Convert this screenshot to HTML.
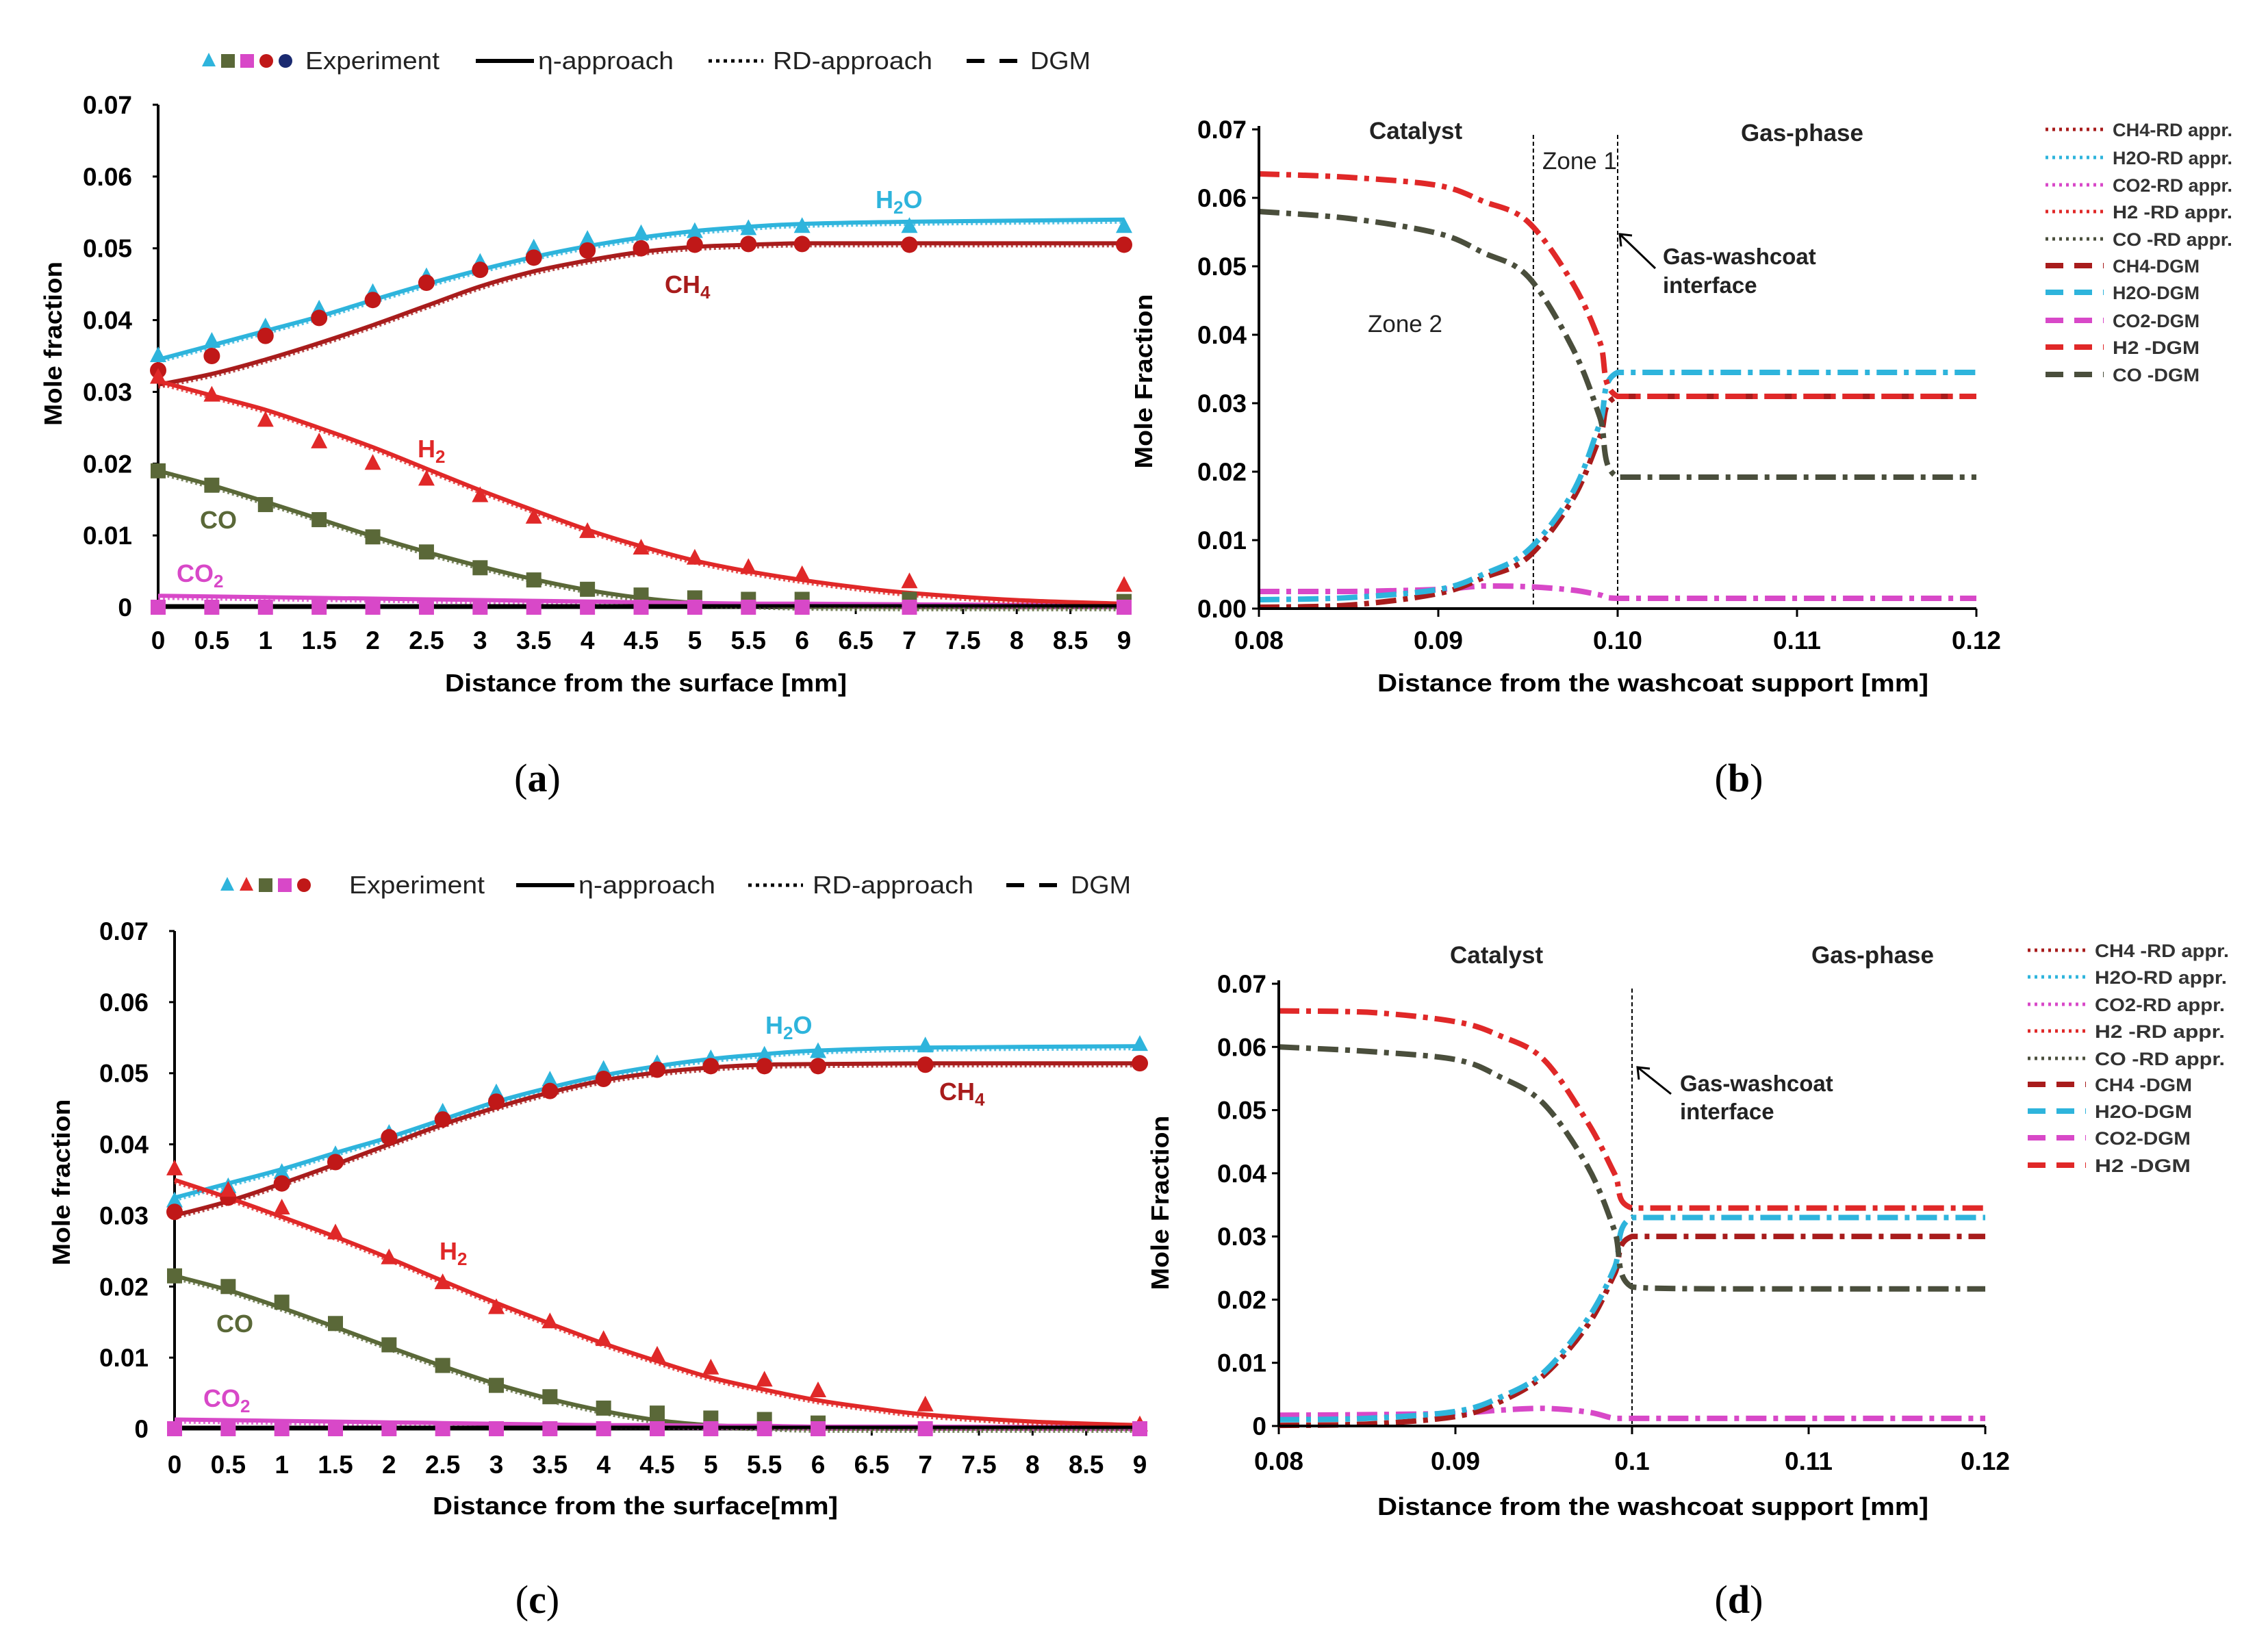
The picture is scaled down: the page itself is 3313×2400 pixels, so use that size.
<!DOCTYPE html>
<html><head><meta charset="utf-8"><style>
html,body{margin:0;padding:0;background:#fff}
svg{display:block;font-family:"Liberation Sans",sans-serif}
</style></head><body>
<svg id="fig" width="3313" height="2400" viewBox="0 0 3313 2400" xmlns="http://www.w3.org/2000/svg"></svg>
<script>
// ---------- Panel (a) data ----------
const aXm = [0,0.5,1,1.5,2,2.5,3,3.5,4,4.5,5,5.5,6,7,9];
const aH2Om = [0.0345,0.0365,0.0385,0.0405,0.0428,0.045,0.047,0.0488,0.0503,0.0515,0.0524,0.053,0.0534,0.0537,0.054];
const aCH4m = [0.031,0.0325,0.0345,0.0368,0.0393,0.042,0.0447,0.0468,0.0483,0.0495,0.0502,0.0505,0.0507,0.0507,0.0507];
const aCOm  = [0.019,0.017,0.0147,0.0123,0.0099,0.0077,0.0057,0.0039,0.0024,0.0013,0.0006,0.0003,0.0001,0,0];
const aCO2m = [0.0016,0.0015,0.0014,0.0013,0.0012,0.0011,0.001,0.0009,0.0008,0.0007,0.0006,0.0005,0.0005,0.0004,0.0003];
const aXh2 = [0,0.5,1,1.5,2,2.5,3,3.5,4,4.5,5,5.5,6,6.5,7,8,9];
const aH2m  = [0.0315,0.0295,0.0275,0.025,0.0223,0.0193,0.0163,0.0135,0.0108,0.0085,0.0065,0.005,0.0038,0.0028,0.002,0.001,0.0005];
const aXe = [0,0.5,1,1.5,2,2.5,3,3.5,4,4.5,5,5.5,6,7,9];
const aH2Oe = [0.035,0.037,0.039,0.0415,0.0438,0.046,0.048,0.05,0.0512,0.052,0.0523,0.0527,0.053,0.053,0.053];
const aCH4e = [0.033,0.035,0.0378,0.0403,0.0428,0.0452,0.047,0.0487,0.0497,0.05,0.0505,0.0506,0.0506,0.0505,0.0505];
const aH2e  = [0.032,0.0295,0.026,0.023,0.02,0.0178,0.0155,0.0125,0.0105,0.0082,0.0068,0.0055,0.0045,0.0035,0.003];
const aCOe  = [0.019,0.017,0.0143,0.0122,0.0098,0.0077,0.0055,0.0038,0.0025,0.0017,0.0013,0.0011,0.0011,0.0011,0.0008];
const aCO2e = [0,0,0,0,0,0,0,0,0,0,0,0,0,0,0];
// ---------- Panel (c) data ----------
const cXm = [0,0.5,1,1.5,2,2.5,3,3.5,4,4.5,5,5.5,6,7,9];
const cH2Om = [0.0325,0.0345,0.0365,0.0388,0.041,0.0435,0.046,0.048,0.0497,0.051,0.052,0.0527,0.0532,0.0536,0.0538];
const cCH4m = [0.03,0.032,0.0345,0.0372,0.04,0.0428,0.0452,0.0473,0.049,0.0501,0.0508,0.0512,0.0513,0.0514,0.0514];
const cCOm  = [0.0215,0.0195,0.017,0.0143,0.0115,0.0088,0.0063,0.0042,0.0025,0.0012,0.0005,0.0002,0,0,0];
const cCO2m = [0.0013,0.0012,0.0011,0.001,0.0009,0.0008,0.0007,0.0006,0.0005,0.0005,0.0004,0.0004,0.0003,0.0003,0.0002];
const cXh2 = [0,0.5,1,1.5,2,2.5,3,3.5,4,4.5,5,5.5,6,6.5,7,8,9];
const cH2m  = [0.035,0.0325,0.0298,0.027,0.024,0.0208,0.0177,0.0148,0.012,0.0095,0.0072,0.0055,0.004,0.0029,0.002,0.001,0.0005];
const cXe = [0,0.5,1,1.5,2,2.5,3,3.5,4,4.5,5,5.5,6,7,9];
const cH2Oe = [0.032,0.034,0.036,0.0385,0.0415,0.0445,0.0472,0.049,0.0505,0.0513,0.052,0.0525,0.053,0.0538,0.054];
const cCH4e = [0.0305,0.0325,0.0345,0.0375,0.041,0.0435,0.046,0.0475,0.0492,0.0505,0.051,0.051,0.051,0.0512,0.0514];
const cH2e  = [0.0365,0.0335,0.031,0.0275,0.024,0.0205,0.017,0.015,0.0125,0.0103,0.0085,0.0068,0.0053,0.0033,0.0005];
const cXco = [0,0.5,1,1.5,2,2.5,3,3.5,4,4.5,5,5.5,6];
const cCOe  = [0.0215,0.02,0.0178,0.0148,0.0118,0.0089,0.0061,0.0045,0.0029,0.0022,0.0015,0.0013,0.0008];
const cCO2e = [0,0,0,0,0,0,0,0,0,0,0,0,0,0,0];
// ---------- Panel (b) data ----------
const bX = [0.08,0.085,0.09,0.0925,0.095,0.0975,0.099,0.1,0.105,0.11,0.115,0.12];
const bH2  = [0.0635,0.063,0.0618,0.0595,0.0565,0.0475,0.039,0.031,0.031,0.031,0.031,0.031];
const bCO  = [0.058,0.057,0.0548,0.052,0.0485,0.038,0.028,0.0192,0.0192,0.0192,0.0192,0.0192];
const bH2O = [0.0013,0.0016,0.0028,0.005,0.0085,0.017,0.027,0.0345,0.0345,0.0345,0.0345,0.0345];
const bCH4 = [0.0002,0.0005,0.0022,0.0045,0.0075,0.016,0.025,0.031,0.031,0.031,0.031,0.031];
const bCO2 = [0.0025,0.0025,0.0028,0.0033,0.0032,0.0027,0.002,0.0015,0.0015,0.0015,0.0015,0.0015];
// ---------- Panel (d) data ----------
const dX = [0.08,0.085,0.09,0.0925,0.095,0.0975,0.099,0.1,0.105,0.11,0.115,0.12];
const dH2  = [0.0657,0.0655,0.064,0.0618,0.058,0.048,0.04,0.0345,0.0345,0.0345,0.0345,0.0345];
const dCO  = [0.06,0.0593,0.058,0.0553,0.051,0.041,0.031,0.022,0.0217,0.0217,0.0217,0.0217];
const dH2O = [0.001,0.0012,0.0023,0.0045,0.0085,0.017,0.025,0.033,0.033,0.033,0.033,0.033];
const dCH4 = [0.0001,0.0003,0.0015,0.0038,0.008,0.016,0.024,0.03,0.03,0.03,0.03,0.03];
const dCO2 = [0.0017,0.0018,0.002,0.0025,0.0028,0.0022,0.0012,0.0012,0.0012,0.0012,0.0012,0.0012];
const leftXTicks = ["0","0.5","1","1.5","2","2.5","3","3.5","4","4.5","5","5.5","6","6.5","7","7.5","8","8.5","9"];
const leftYTicks = ["0","0.01","0.02","0.03","0.04","0.05","0.06","0.07"];
const bXTicks = ["0.08","0.09","0.10","0.11","0.12"];
const dXTicks = ["0.08","0.09","0.1","0.11","0.12"];
const bYTicks = ["0.00","0.01","0.02","0.03","0.04","0.05","0.06","0.07"];
const dYTicks = ["0","0.01","0.02","0.03","0.04","0.05","0.06","0.07"];

const C = {h2:"#e02828",ch4:"#a81c1c",h2o:"#2eb4dc",co:"#5a6838",co2:"#d848c8",cog:"#4a4e3c"};
const NS="http://www.w3.org/2000/svg";
const svg=document.getElementById('fig');
function mk(tag,attrs,parent){const e=document.createElementNS(NS,tag);for(const k in attrs)e.setAttribute(k,attrs[k]);(parent||svg).appendChild(e);return e;}
function txt(s,x,y,o,parent){const e=mk('text',Object.assign({x:x,y:y},o||{}),parent);e.textContent=s;return e;}
function clampY(v,a,b){const lo=Math.min(a,b),hi=Math.max(a,b);return Math.max(lo,Math.min(hi,v));}
function smooth(pts){let d="M"+pts[0][0]+","+pts[0][1];for(let i=0;i<pts.length-1;i++){const p0=pts[i-1]||pts[i],p1=pts[i],p2=pts[i+1],p3=pts[i+2]||p2;
 const c1=[p1[0]+(p2[0]-p0[0])/6,clampY(p1[1]+(p2[1]-p0[1])/6,p1[1],p2[1])],c2=[p2[0]-(p3[0]-p1[0])/6,clampY(p2[1]-(p3[1]-p1[1])/6,p1[1],p2[1])];
 d+=" C"+c1[0].toFixed(1)+","+c1[1].toFixed(1)+" "+c2[0].toFixed(1)+","+c2[1].toFixed(1)+" "+p2[0].toFixed(1)+","+p2[1].toFixed(1);}return d;}
function axes(x0,x1,xv0,xv1,y0,y1,yv1){return {sx:v=>x0+(v-xv0)/(xv1-xv0)*(x1-x0),sy:v=>y0-(v/yv1)*(y0-y1)};}

// ---------- Left panels (a),(c) ----------
function leftPanel(id,P,D){
 const g=mk('g',{});  
 const A=axes(P.x0,P.x1,0,9,P.y0,P.y1,0.07);
 const ax=mk('line',{x1:P.x0,y1:P.y1,x2:P.x0,y2:P.y0,stroke:"#000","stroke-width":4},g);  
 const axx=mk('line',{x1:P.x0,y1:P.y0,x2:P.x1,y2:P.y0,stroke:"#000","stroke-width":5},g);  
 leftYTicks.forEach((t,i)=>{const y=A.sy(i*0.01);mk('line',{x1:P.x0-8,y1:y,x2:P.x0,y2:y,stroke:"#000","stroke-width":3},g);
  const e=txt(t,P.x0-38,y+13,{"font-size":37,"font-weight":"bold","text-anchor":"end"},g);  });
 leftXTicks.forEach((t,i)=>{const x=A.sx(i*0.5);mk('line',{x1:x,y1:P.y0,x2:x,y2:P.y0+10,stroke:"#000","stroke-width":3},g);
  const e=txt(t,x,P.ty,{"font-size":37,"font-weight":"bold","text-anchor":"middle"},g);  });
 const xt=txt(P.xtitle,P.xtX,P.xtY,{"font-size":36,"font-weight":"bold",textLength:P.xtL,lengthAdjust:"spacingAndGlyphs"},g);  
 const yt=txt("Mole fraction",0,0,{"font-size":36,"font-weight":"bold","text-anchor":"middle",textLength:P.ytL,lengthAdjust:"spacingAndGlyphs",transform:`translate(${P.ytX},${P.ytY}) rotate(-90)`},g);  
 D.lines.forEach(L=>{const pts=L.x.map((v,i)=>[A.sx(v),A.sy(L.y[i])]);
  const p=mk('path',{d:smooth(pts),fill:"none",stroke:L.c,"stroke-width":6},g);  
  const p2=mk('path',{d:smooth(pts.map(q=>[q[0],q[1]+4])),fill:"none",stroke:L.c,"stroke-width":4,"stroke-dasharray":"3 4",opacity:0.8},g);  });
 mk('line',{x1:P.x0,y1:P.y0-2,x2:P.x1,y2:P.y0-2,stroke:"#000","stroke-width":5},g);
 D.marks.forEach(M=>{M.x.forEach((v,i)=>{const x=A.sx(v),y=A.sy(M.y[i]);let e;
  if(M.s==="tri") e=mk('polygon',{points:`${x},${y-14} ${x-12},${y+9} ${x+12},${y+9}`,fill:M.c},g);
  else if(M.s==="sq") e=mk('rect',{x:x-11,y:y-11,width:22,height:22,fill:M.c},g);
  else e=mk('circle',{cx:x,cy:y,r:12,fill:M.c},g);
   });});
 P.labels.forEach(l=>{const e=mk('text',{x:l[1],y:l[2],"font-size":36,"font-weight":"bold",fill:l[3]},g);
  e.innerHTML=l[0];  });
 const lg=mk('g',{},g);  
 const L=P.leg, ly=L.y;
 L.mk.forEach((m,i)=>{const x=L.mx+i*28;let e;
  if(m[0]==="tri") e=mk('polygon',{points:`${x},${ly-12} ${x-10},${ly+8} ${x+10},${ly+8}`,fill:m[1]},lg);
  else if(m[0]==="sq") e=mk('rect',{x:x-10,y:ly-10,width:20,height:20,fill:m[1]},lg);
  else e=mk('circle',{cx:x,cy:ly,r:10,fill:m[1]},lg);
   });
 txt("Experiment",L.ex,ly+12,{"font-size":36,textLength:L.exL,lengthAdjust:"spacingAndGlyphs",fill:"#222"},lg);
 mk('line',{x1:L.l1[0],y1:ly,x2:L.l1[1],y2:ly,stroke:"#000","stroke-width":6},lg);
 txt("η-approach",L.l1[1]+6,ly+12,{"font-size":36,textLength:L.etaL,lengthAdjust:"spacingAndGlyphs",fill:"#222"},lg);
 mk('line',{x1:L.l2[0],y1:ly,x2:L.l2[1],y2:ly,stroke:"#000","stroke-width":5,"stroke-dasharray":"5 6"},lg);
 txt("RD-approach",L.l2[1]+14,ly+12,{"font-size":36,textLength:L.rdL,lengthAdjust:"spacingAndGlyphs",fill:"#222"},lg);
 mk('line',{x1:L.l3[0],y1:ly,x2:L.l3[1],y2:ly,stroke:"#000","stroke-width":6,"stroke-dasharray":"26 22"},lg);
 txt("DGM",L.l3[1]+14,ly+12,{"font-size":36,textLength:88,lengthAdjust:"spacingAndGlyphs",fill:"#222"},lg);
 const pl=mk('text',{x:P.plX,y:P.plY,"font-size":58,"font-family":"Liberation Serif, serif","text-anchor":"middle"},g);
 pl.innerHTML='(<tspan font-weight="bold">'+id+'</tspan>)';  
}
const sub=s=>`<tspan font-size="26" dy="8">${s}</tspan>`;
leftPanel('a',{x0:231,x1:1642,y0:887,y1:153,ty:948,xtitle:"Distance from the surface [mm]",xtX:650,xtY:1010,xtL:587,ytX:90,ytY:502,ytL:240,plX:785,plY:1156,
 labels:[["H"+sub("2")+'<tspan dy="-8">O</tspan>',1279,304,C.h2o],["CH"+sub("4"),971,428,C.ch4],["H"+sub("2"),610,668,C.h2],["CO",292,772,C.co],["CO"+sub("2"),258,850,C.co2]],
 leg:{y:89,mx:305,mk:[["tri",C.h2o],["sq",C.co],["sq",C.co2],["circ","#c01818"],["circ","#1a2a70"]],ex:446,exL:196,l1:[695,780],etaL:198,l2:[1035,1115],rdL:233,l3:[1412,1491]}},
 {lines:[{n:'h2o',x:aXm,y:aH2Om,c:C.h2o},{n:'ch4',x:aXm,y:aCH4m,c:C.ch4},{n:'co',x:aXm,y:aCOm,c:C.co},{n:'co2',x:aXm,y:aCO2m,c:C.co2},{n:'h2',x:aXh2,y:aH2m,c:C.h2}],
  marks:[{n:'h2o',s:'tri',x:aXe,y:aH2Oe,c:C.h2o},{n:'ch4',s:'circ',x:aXe,y:aCH4e,c:"#c01818"},{n:'h2',s:'tri',x:aXe,y:aH2e,c:C.h2},{n:'co',s:'sq',x:aXe,y:aCOe,c:C.co},{n:'co2',s:'sq',x:aXe,y:aCO2e,c:C.co2}]});
leftPanel('c',{x0:255,x1:1665,y0:2087,y1:1360,ty:2152,xtitle:"Distance  from the surface[mm]",xtX:632,xtY:2212,xtL:592,ytX:102,ytY:1727,ytL:243,plX:785,plY:2356,
 labels:[["H"+sub("2")+'<tspan dy="-8">O</tspan>',1118,1510,C.h2o],["CH"+sub("4"),1372,1607,C.ch4],["H"+sub("2"),642,1840,C.h2],["CO",316,1946,C.co],["CO"+sub("2"),297,2055,C.co2]],
 leg:{y:1293,mx:332,mk:[["tri",C.h2o],["tri",C.h2],["sq",C.co],["sq",C.co2],["circ","#c01818"]],ex:510,exL:198,l1:[754,839],etaL:200,l2:[1093,1173],rdL:235,l3:[1470,1550]}},
 {lines:[{n:'h2o',x:cXm,y:cH2Om,c:C.h2o},{n:'ch4',x:cXm,y:cCH4m,c:C.ch4},{n:'co',x:cXm,y:cCOm,c:C.co},{n:'co2',x:cXm,y:cCO2m,c:C.co2},{n:'h2',x:cXh2,y:cH2m,c:C.h2}],
  marks:[{n:'h2o',s:'tri',x:cXe,y:cH2Oe,c:C.h2o},{n:'ch4',s:'circ',x:cXe,y:cCH4e,c:"#c01818"},{n:'h2',s:'tri',x:cXe,y:cH2e,c:C.h2},{n:'co',s:'sq',x:cXco,y:cCOe,c:C.co},{n:'co2',s:'sq',x:cXe,y:cCO2e,c:C.co2}]});

// ---------- Right panels (b),(d) ----------
function rightPanel(id,P,X,S){
 const g=mk('g',{});  
 const A=axes(P.x0,P.x1,0.08,0.12,P.y0,P.y1,0.07);
 P.yt.forEach((t,i)=>{const y=A.sy(i*0.01);mk('line',{x1:P.x0-10,y1:y,x2:P.x0,y2:y,stroke:"#000","stroke-width":3},g);
  const e=txt(t,P.x0-18,y+13,{"font-size":37,"font-weight":"bold","text-anchor":"end"},g);  });
 P.xt.forEach((t,i)=>{const x=A.sx(0.08+i*0.01);mk('line',{x1:x,y1:P.y0,x2:x,y2:P.y0+12,stroke:"#000","stroke-width":3},g);
  const e=txt(t,x,P.ty,{"font-size":37,"font-weight":"bold","text-anchor":"middle"},g);  });
 const xt=txt("Distance from the washcoat support [mm]",P.xtX,P.xtY,{"font-size":36,"font-weight":"bold",textLength:805,lengthAdjust:"spacingAndGlyphs"},g);  
 const yt=txt("Mole Fraction",0,0,{"font-size":36,"font-weight":"bold","text-anchor":"middle",textLength:255,lengthAdjust:"spacingAndGlyphs",transform:`translate(${P.ytX},${P.ytY}) rotate(-90)`},g);  
 P.vl.forEach(v=>{const x=A.sx(v);const e=mk('line',{x1:x,y1:P.vTop,x2:x,y2:P.y0,stroke:"#000","stroke-width":2,"stroke-dasharray":"6 4"},g);  });
 S.forEach(s=>{const pts=X.map((v,i)=>[A.sx(v),A.sy(s.y[i])]);
  const p=mk('path',{d:smooth(pts),fill:"none",stroke:s.c,"stroke-width":8,"stroke-dasharray":"30 10 7 10"},g);  });
 mk('line',{x1:P.x0,y1:P.y1-5,x2:P.x0,y2:P.y0,stroke:"#000","stroke-width":4},g);
 mk('line',{x1:P.x0,y1:P.y0,x2:P.x1,y2:P.y0,stroke:"#000","stroke-width":4},g);
 P.notes.forEach(n=>{const e=txt(n[0],n[1],n[2],{"font-size":n[3],"font-weight":n[4]?"bold":"normal",fill:"#222"},g);  });
 const ar=P.arrow; const a=mk('g',{},g);  
 mk('line',{x1:ar[0],y1:ar[1],x2:ar[2],y2:ar[3],stroke:"#000","stroke-width":3},a);
 mk('polyline',{points:`${ar[0]+18},${ar[1]+2} ${ar[0]},${ar[1]} ${ar[0]+2},${ar[1]+18}`,fill:"none",stroke:"#000","stroke-width":3},a);
 const lg=mk('g',{},g);  
 P.leg.forEach((l,i)=>{const y=P.lgY[i];
  mk('line',{x1:P.lgX,y1:y,x2:P.lgX+85,y2:y,stroke:l[1],"stroke-width":l[2]?8:5,"stroke-dasharray":l[2]?"26 16":"4 6"},lg);
  const e=txt(l[0],P.lgX+98,y+10,{"font-size":27,"font-weight":"bold",fill:"#333",textLength:l[3],lengthAdjust:"spacingAndGlyphs","xml:space":"preserve"},lg);
   });
 const pl=mk('text',{x:P.plX,y:P.plY,"font-size":58,"font-family":"Liberation Serif, serif","text-anchor":"middle"},g);
 pl.innerHTML='(<tspan font-weight="bold">'+id+'</tspan>)';  
}
rightPanel('b',{x0:1839,x1:2887,y0:889,y1:189,ty:948,xtX:2012,xtY:1010,ytX:1683,ytY:557,yt:bYTicks,xt:bXTicks,vl:[0.0953,0.1],vTop:197,plX:2540,plY:1156,
 notes:[["Catalyst",2000,203,35,true],["Gas-phase",2543,206,35,true],["Zone 1",2253,247,35,false],["Zone 2",1998,485,35,false],["Gas-washcoat",2429,386,33,true],["interface",2429,428,33,true]],
 arrow:[2366,342,2418,392],lgX:2988,lgY:[189,230,270,309,349,388,427,468,507,547],
 leg:[["CH4-RD appr.",C.ch4,0,175],["H2O-RD appr.",C.h2o,0,175],["CO2-RD appr.",C.co2,0,175],["H2   -RD appr.",C.h2,0,175],["CO  -RD appr.",C.cog,0,175],["CH4-DGM",C.ch4,1,127],["H2O-DGM",C.h2o,1,127],["CO2-DGM",C.co2,1,127],["H2   -DGM",C.h2,1,127],["CO  -DGM",C.cog,1,127]]},
 bX,[{n:'co2',y:bCO2,c:C.co2},{n:'ch4',y:bCH4,c:C.ch4},{n:'h2o',y:bH2O,c:C.h2o},{n:'co',y:bCO,c:C.cog},{n:'h2',y:bH2,c:C.h2}]);
rightPanel('d',{x0:1868,x1:2900,y0:2083,y1:1437,ty:2147,xtX:2012,xtY:2213,ytX:1707,ytY:1757,yt:dYTicks,xt:dXTicks,vl:[0.1],vTop:1444,plX:2540,plY:2356,
 notes:[["Catalyst",2118,1407,35,true],["Gas-phase",2646,1407,35,true],["Gas-washcoat",2454,1594,33,true],["interface",2454,1635,33,true]],
 arrow:[2392,1559,2441,1598],lgX:2962,lgY:[1388,1427,1467,1506,1546,1584,1623,1662,1702],
 leg:[["CH4 -RD appr.",C.ch4,0,196],["H2O-RD appr.",C.h2o,0,193],["CO2-RD appr.",C.co2,0,190],["H2   -RD appr.",C.h2,0,190],["CO   -RD appr.",C.cog,0,190],["CH4 -DGM",C.ch4,1,142],["H2O-DGM",C.h2o,1,142],["CO2-DGM",C.co2,1,140],["H2   -DGM",C.h2,1,140]]},
 dX,[{n:'co2',y:dCO2,c:C.co2},{n:'ch4',y:dCH4,c:C.ch4},{n:'h2o',y:dH2O,c:C.h2o},{n:'co',y:dCO,c:C.cog},{n:'h2',y:dH2,c:C.h2}]);
</script>
</body></html>
